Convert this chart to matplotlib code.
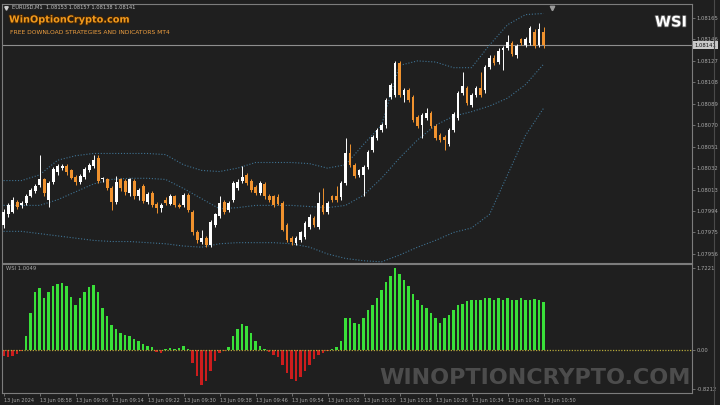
import numpy as np
import matplotlib
matplotlib.use("Agg")
import matplotlib.pyplot as plt
import matplotlib.patheffects as pe
from matplotlib.lines import Line2D
from matplotlib.transforms import blended_transform_factory

# EURUSD M1 candles, prices in points (1 point = 0.00001)
open_pts = [
    107982, 107991, 107993, 108002, 107999, 108001, 108007, 108012, 108017, 108022,
    108004, 108020, 108029, 108032, 108034, 108030, 108024, 108020, 108024, 108030,
    108034, 108041, 108022, 108022, 108014, 108002, 108022, 108021, 108010, 108021,
    108007, 108016, 108002, 108010, 108000, 107997, 108004, 108000, 108007, 107999,
    107999, 108008, 107993, 107975, 107967, 107970, 107964, 107982, 107990, 108002,
    107995, 108004, 108014, 108021, 108026, 108021, 108015, 108010, 108018, 108007,
    108007, 108006, 108001, 107982, 107970, 107966, 107968, 107971, 107980, 107988,
    107980, 107999, 107993, 108007, 108007, 108006, 108019, 108045, 108035, 108026,
    108026, 108033, 108048, 108059, 108066, 108070, 108095, 108097, 108125, 108097,
    108101, 108095, 108077, 108070, 108076, 108081, 108069, 108061, 108060, 108053,
    108066, 108076, 108099, 108103, 108088, 108097, 108103, 108101, 108122, 108130,
    108126, 108137, 108138, 108143, 108132, 108146, 108141, 108143, 108153, 108141,
    108153]
close_pts = [
    107993, 107999, 108004, 107998, 108001, 108007, 108013, 108016, 108022, 108010,
    108019, 108031, 108034, 108034, 108029, 108023, 108020, 108025, 108031, 108035,
    108039, 108021, 108023, 108014, 108002, 108020, 108014, 108011, 108022, 108007,
    108013, 108003, 108009, 107999, 107997, 107999, 108001, 108007, 107999, 107998,
    108008, 107995, 107975, 107968, 107970, 107964, 107984, 107991, 108001, 107993,
    108001, 108019, 108020, 108024, 108019, 108013, 108010, 108019, 108007, 108004,
    107999, 108000, 107977, 107968, 107967, 107970, 107975, 107983, 107989, 107982,
    108001, 107993, 108001, 108004, 108004, 108019, 108045, 108035, 108025, 108030,
    108033, 108046, 108060, 108066, 108070, 108092, 108106, 108125, 108097, 108101,
    108092, 108075, 108069, 108079, 108081, 108069, 108059, 108057, 108057, 108066,
    108080, 108099, 108105, 108090, 108097, 108103, 108097, 108122, 108130, 108125,
    108136, 108138, 108144, 108133, 108140, 108143, 108146, 108156, 108140, 108155,
    108141]
high_pts = [
    107996, 108001, 108006, 108004, 108003, 108009, 108014, 108018, 108044, 108023,
    108021, 108033, 108036, 108036, 108036, 108031, 108026, 108027, 108033, 108037,
    108044, 108044, 108024, 108023, 108016, 108025, 108023, 108022, 108023, 108022,
    108014, 108018, 108011, 108012, 108002, 108001, 108006, 108009, 108008, 108001,
    108010, 108010, 107995, 107977, 107977, 107972, 107986, 107992, 108007, 108004,
    108003, 108021, 108022, 108034, 108028, 108022, 108017, 108021, 108020, 108009,
    108008, 108009, 108003, 107983, 107972, 107972, 107976, 107985, 107991, 107990,
    108011, 108014, 108003, 108008, 108016, 108021, 108059, 108053, 108037, 108031,
    108035, 108048, 108061, 108068, 108072, 108094, 108107, 108127, 108127, 108103,
    108103, 108097, 108079, 108081, 108085, 108083, 108071, 108063, 108061, 108068,
    108082, 108100, 108117, 108105, 108099, 108105, 108117, 108123, 108132, 108132,
    108138, 108140, 108150, 108145, 108142, 108147, 108148, 108158, 108155, 108161,
    108157]
low_pts = [
    107979, 107989, 107992, 107996, 107997, 107999, 108006, 108010, 108015, 108007,
    107998, 108018, 108026, 108030, 108026, 108022, 108017, 108018, 108022, 108029,
    108032, 108019, 108020, 108013, 107995, 108000, 108012, 108008, 108007, 108005,
    108004, 108001, 108000, 107998, 107992, 107993, 107999, 107999, 107998, 107997,
    107998, 107993, 107973, 107966, 107965, 107962, 107962, 107980, 107988, 107991,
    107993, 108002, 108013, 108019, 108017, 108011, 108008, 108008, 108005, 108002,
    107998, 107999, 107976, 107967, 107964, 107964, 107967, 107969, 107978, 107980,
    107978, 107991, 107991, 108002, 108002, 108004, 108017, 108033, 108023, 108024,
    108007, 108031, 108046, 108057, 108064, 108068, 108093, 108095, 108095, 108091,
    108091, 108073, 108068, 108059, 108075, 108068, 108057, 108055, 108048, 108052,
    108064, 108075, 108097, 108088, 108086, 108095, 108095, 108099, 108120, 108123,
    108124, 108119, 108137, 108131, 108130, 108141, 108139, 108141, 108138, 108139,
    108138]

# Bollinger bands read every 4 bars
band_bars = list(range(0, 121, 4))
upper_pts = [108021, 108021, 108026, 108039, 108043, 108045, 108045, 108045, 108045, 108044,
             108035, 108030, 108029, 108032, 108037, 108037, 108037, 108036, 108032, 108035,
             108053, 108070, 108123, 108127, 108126, 108121, 108121, 108141, 108159, 108168,
             108169]
middle_pts = [107999, 107999, 107999, 108004, 108011, 108018, 108022, 108023, 108023, 108022,
              108014, 108005, 107996, 107997, 107999, 107999, 107999, 107998, 107997, 107999,
              108008, 108023, 108041, 108057, 108070, 108078, 108082, 108087, 108094, 108106,
              108124]
lower_pts = [107976, 107976, 107974, 107972, 107970, 107968, 107967, 107967, 107966, 107965,
             107963, 107962, 107965, 107966, 107966, 107966, 107965, 107962, 107956, 107952,
             107950, 107949, 107955, 107962, 107968, 107975, 107979, 107991, 108026, 108061,
             108085]

# WSI histogram
wsi = [
    -0.13, -0.15, -0.13, -0.08, -0.02, 0.30, 0.78, 1.21, 1.29, 1.08,
    1.21, 1.33, 1.38, 1.40, 1.33, 1.10, 0.95, 1.08, 1.21, 1.31,
    1.36, 1.21, 0.87, 0.70, 0.53, 0.44, 0.36, 0.32, 0.28, 0.23,
    0.19, 0.13, 0.08, 0.06, -0.04, -0.06, 0.02, 0.04, 0.02, 0.04,
    0.08, 0.01, -0.28, -0.55, -0.74, -0.66, -0.44, -0.23, -0.06, -0.02,
    0.06, 0.28, 0.44, 0.55, 0.51, 0.36, 0.19, 0.08, 0.02, -0.04,
    -0.11, -0.15, -0.32, -0.49, -0.61, -0.66, -0.57, -0.44, -0.32, -0.19,
    -0.11, -0.06, -0.02, 0.02, 0.06, 0.19, 0.66, 0.66, 0.57, 0.55,
    0.66, 0.83, 0.95, 1.08, 1.25, 1.42, 1.55, 1.7221, 1.59, 1.46,
    1.33, 1.17, 1.04, 0.93, 0.87, 0.78, 0.66, 0.57, 0.66, 0.74,
    0.83, 0.93, 0.97, 1.02, 1.04, 1.04, 1.04, 1.08, 1.08, 1.04,
    1.08, 1.04, 1.08, 1.04, 1.04, 1.08, 1.04, 1.04, 1.06, 1.04,
    1.00]

price_ticks = [1.08165, 1.08146, 1.08127, 1.08108, 1.08089, 1.08070,
               1.08051, 1.08032, 1.08013, 1.07994, 1.07975, 1.07956]
last_price = 1.08141
wsi_ticks = [1.7221, 0.0, -0.8212]
wsi_tick_labels = ["1.7221", "0.00", "-0.8212"]
time_bars = list(range(0, 121, 8))
time_labels = ["13 Jun 2024", "13 Jun 08:58", "13 Jun 09:06", "13 Jun 09:14",
               "13 Jun 09:22", "13 Jun 09:30", "13 Jun 09:38", "13 Jun 09:46",
               "13 Jun 09:54", "13 Jun 10:02", "13 Jun 10:10", "13 Jun 10:18",
               "13 Jun 10:26", "13 Jun 10:34", "13 Jun 10:42", "13 Jun 10:50"]

bg = "#1f1f1f"
frame = "#7c7c7c"
txt = "#a8a8a8"
bull = "#ffffff"
bear = "#f0922e"
band_col = "#3f7393"

o = np.array(open_pts) / 1e5
c = np.array(close_pts) / 1e5
h = np.array(high_pts) / 1e5
l = np.array(low_pts) / 1e5
x = np.arange(len(o))

W, H = 720, 405
fig = plt.figure(figsize=(7.2, 4.05), dpi=100, facecolor=bg)


def px_axes(x0, y0, x1, y1):
    return fig.add_axes([x0 / W, 1 - y1 / H, (x1 - x0) / W, (y1 - y0) / H])


ax = px_axes(1.5, 4, 692, 262.5)
ax2 = px_axes(1.5, 264, 692, 393)
for a in (ax, ax2):
    a.set_facecolor(bg)
    for s in a.spines.values():
        s.set_color(frame)
        s.set_linewidth(0.8)
    a.set_xlim(-0.45, 153)

# candles
cols = np.where(c >= o, bull, bear)
ax.vlines(x, l, h, colors=cols, linewidth=0.7, zorder=3)
body = np.where(np.abs(c - o) < 0.000008, 0.000008, c - o)
ax.bar(x, body, bottom=o, width=0.66, color=cols, linewidth=0, zorder=4)

# bands
for band in (upper_pts, middle_pts, lower_pts):
    ax.plot(band_bars, np.array(band) / 1e5, color=band_col, lw=0.8,
            ls=(0, (1, 1.6)), zorder=2)

ax.set_ylim(1.0794842, 1.0817740)
ax.axhline(last_price, color="#8e8e8e", lw=0.8, zorder=1)

ax.yaxis.tick_right()
ax.set_yticks(price_ticks)
ax.set_yticklabels([f"{p:.5f}" for p in price_ticks])
ax.tick_params(axis="y", colors=frame, labelcolor=txt, labelsize=3.8,
               length=2, width=0.6, pad=1.5)
ax.set_xticks([])

tr = blended_transform_factory(ax.transAxes, ax.transData)
ax.text(1.004, last_price, f"{last_price:.5f}", transform=tr, fontsize=3.8,
        color="#111111", va="center", ha="left",
        bbox=dict(facecolor="#c9c9c9", edgecolor="none", pad=0.9))

# shift marker at the top
ax.plot([0.797], [0.985], marker="v", ms=3.2, color="#9a9a9a",
        transform=ax.transAxes, clip_on=False)

# WSI histogram
v = np.array(wsi)
hcols = np.where(v >= 0, "#39e039", "#cc1d1d")
ax2.bar(x, v, width=0.6, color=hcols, linewidth=0)
ax2.axhline(0, color="#b5a83a", lw=0.9, ls=(0, (1, 1.2)))
ax2.set_ylim(-0.905, 1.80)
ax2.yaxis.tick_right()
ax2.set_yticks(wsi_ticks)
ax2.set_yticklabels(wsi_tick_labels)
ax2.tick_params(axis="y", colors=frame, labelcolor=txt, labelsize=3.8,
                length=2, width=0.6, pad=1.5)
ax2.set_xticks(time_bars)
ax2.set_xticklabels(time_labels, ha="left")
ax2.tick_params(axis="x", colors=frame, labelcolor=txt, labelsize=3.6,
                length=2, width=0.6, pad=1.5)
ax2.text(0.006, 0.985, "WSI 1.0049", transform=ax2.transAxes, fontsize=3.8,
         color=txt, va="top", ha="left")

# header texts
fig.text(12 / W, 1 - 7.5 / H, "EURUSD,M1  1.08153 1.08157 1.08138 1.08141",
         fontsize=3.7, color="#c4c4c4", va="center", ha="left")
fig.lines.append(Line2D([6 / W], [1 - 7.5 / H], marker="v", ms=2.5,
                        color="#d0d0d0", transform=fig.transFigure))
fig.text(9 / W, 1 - 19.5 / H, "WinOptionCrypto.com", fontsize=7.0,
         fontweight="bold", color="#f39a1c", va="center", ha="left",
         path_effects=[pe.withStroke(linewidth=1.6, foreground="#3a2208")])
fig.text(10 / W, 1 - 32 / H, "FREE DOWNLOAD STRATEGIES AND INDICATORS MT4",
         fontsize=4.3, color="#f0a040", va="center", ha="left")
fig.text(671 / W, 1 - 22 / H, "WSI", fontsize=10.5, fontweight="bold",
         color="white", va="center", ha="center",
         path_effects=[pe.withStroke(linewidth=1.2, foreground="#555555")])

# watermark
fig.text(535 / W, 1 - 378 / H, "WINOPTIONCRYPTO.COM", fontsize=16,
         fontweight="bold", color="#7a7a7a", alpha=0.5,
         va="center", ha="center")

# window frame on the right
fig.lines.append(Line2D([714 / W, 714 / W], [0, 1], color="#4a4a4a", lw=0.8,
                        transform=fig.transFigure))

fig.savefig("out.png", dpi=100, facecolor=bg)
